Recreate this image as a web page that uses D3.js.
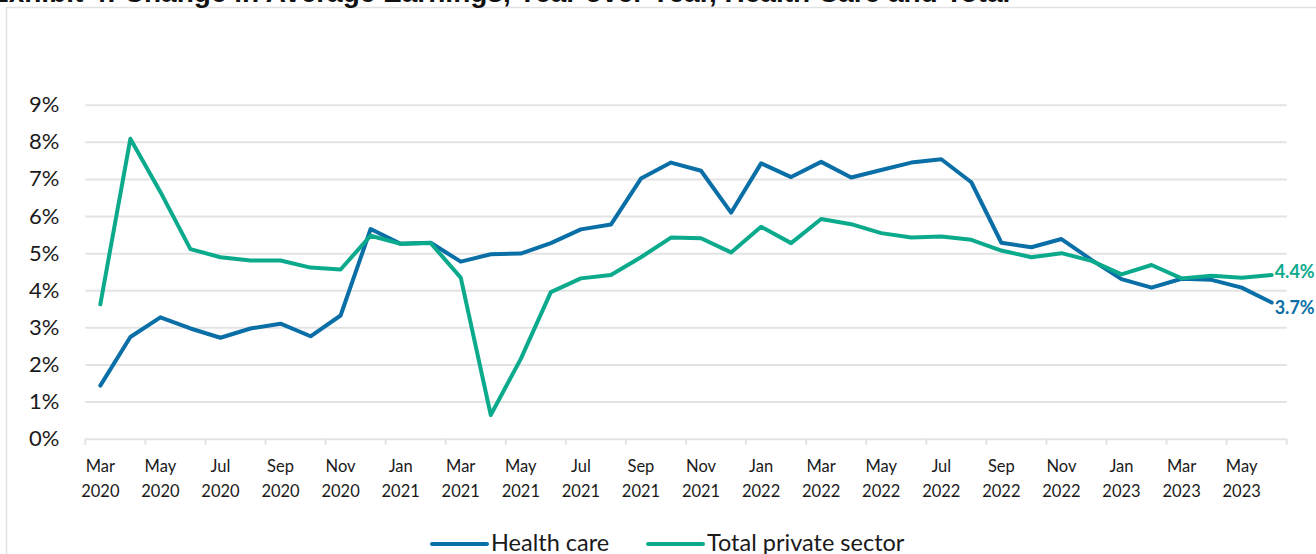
<!DOCTYPE html>
<html>
<head>
<meta charset="utf-8">
<script src="https://cdn.jsdelivr.net/npm/d3@7"></script>
<style>
  html, body { margin: 0; padding: 0; background: #fff; }
  svg { display: block; }
</style>
</head>
<body>
<svg id="chart" width="1316" height="554"></svg>
<script>
const months = ["Mar 2020","Apr 2020","May 2020","Jun 2020","Jul 2020","Aug 2020","Sep 2020","Oct 2020","Nov 2020","Dec 2020",
  "Jan 2021","Feb 2021","Mar 2021","Apr 2021","May 2021","Jun 2021","Jul 2021","Aug 2021","Sep 2021","Oct 2021","Nov 2021","Dec 2021",
  "Jan 2022","Feb 2022","Mar 2022","Apr 2022","May 2022","Jun 2022","Jul 2022","Aug 2022","Sep 2022","Oct 2022","Nov 2022","Dec 2022",
  "Jan 2023","Feb 2023","Mar 2023","Apr 2023","May 2023","Jun 2023"];
const healthCare = [1.43,2.74,3.27,2.97,2.72,2.97,3.10,2.76,3.32,5.65,
  5.25,5.28,4.77,4.97,4.99,5.27,5.64,5.77,7.01,7.44,7.22,6.09,
  7.42,7.05,7.46,7.04,7.24,7.44,7.53,6.91,5.28,5.16,5.38,4.82,
  4.30,4.07,4.31,4.28,4.07,3.67];
const totalPrivate = [3.62,8.08,6.65,5.11,4.89,4.80,4.80,4.61,4.56,5.47,
  5.25,5.27,4.34,0.64,2.15,3.95,4.32,4.41,4.89,5.42,5.40,5.02,
  5.71,5.27,5.92,5.78,5.54,5.42,5.45,5.36,5.07,4.89,5.00,4.79,
  4.43,4.68,4.32,4.39,4.34,4.41];
const yTicks = [0,1,2,3,4,5,6,7,8,9];
const seriesNames = ["Health care","Total private sector"];
const endLabels = ["3.7%","4.4%"];
const title = "Exhibit 4: Change in Average Earnings, Year over Year, Health Care and Total";

const blue = "#0a6fa6", green = "#0baa8c", grid = "#e3e3e3";
const svg = d3.select("#chart");
const font = "Lato, 'Open Sans', sans-serif";

// container border
svg.append("rect").attr("x", 6.5).attr("y", 7.5).attr("width", 1400).attr("height", 700)
  .attr("fill", "none").attr("stroke", "#e2e2e2").attr("stroke-width", 1.5);

// title (cropped at top)
svg.append("text").attr("x", -10).attr("y", 2).attr("font-family", "'Liberation Sans', Arial, sans-serif")
  .attr("font-weight", "bold").attr("font-size", 28).attr("fill", "#111").text(title);

const x = d3.scaleBand().domain(months).range([85.3, 1286.7]).padding(0);
const y = d3.scaleLinear().domain([0, 9]).range([438.7, 104.7]);
const cx = d => x(d) + x.bandwidth() / 2;

// gridlines + y labels
const yAxis = svg.append("g").attr("transform", "translate(85.3,0)")
  .call(d3.axisLeft(y).tickValues(yTicks).tickSize(-(1286.7 - 85.3)).tickPadding(26).tickFormat(d => d + "%"));
yAxis.select(".domain").remove();
yAxis.selectAll(".tick line").attr("stroke", grid).attr("stroke-width", 2);
yAxis.selectAll(".tick text").attr("font-family", font).attr("font-size", 22).attr("fill", "#1a1a1a");

// x tick marks at band boundaries every 2 months
const tickCats = months.filter((d, i) => i % 2 === 0);
const tickXs = tickCats.map(d => x(d)).concat([x.range()[1]]);
svg.append("g").selectAll("line").data(tickXs).join("line")
  .attr("x1", d => d).attr("x2", d => d).attr("y1", y(0)).attr("y2", y(0) + 6)
  .attr("stroke", grid).attr("stroke-width", 2);

// x labels (two lines)
const xAxis = svg.append("g").attr("transform", `translate(0,${y(0)})`)
  .call(d3.axisBottom(x).tickValues(tickCats).tickSize(0).tickPadding(0).tickFormat(""));
xAxis.select(".domain").remove();
xAxis.selectAll(".tick").each(function(d) {
  const parts = d.split(" ");
  const t = d3.select(this).append("text").attr("fill", "#1a1a1a").attr("font-family", font)
    .attr("font-size", 16.5).attr("text-anchor", "middle");
  t.append("tspan").attr("x", 0).attr("y", 33).text(parts[0]);
  t.append("tspan").attr("x", 0).attr("y", 58).text(parts[1]);
});

// lines
const line = d3.line().x((d, i) => cx(months[i])).y(d => y(d));
const series = [{name: seriesNames[0], values: healthCare, color: blue, label: endLabels[0], dy: 4},
                {name: seriesNames[1], values: totalPrivate, color: green, label: endLabels[1], dy: -4}];
series.forEach(s => {
  svg.append("path").datum(s.values).attr("d", line).attr("fill", "none")
    .attr("stroke", s.color).attr("stroke-width", 4).attr("stroke-linejoin", "round").attr("stroke-linecap", "round");
  const last = s.values.length - 1;
  svg.append("text").attr("x", cx(months[last]) + 3).attr("y", y(s.values[last]) + s.dy)
    .attr("dominant-baseline", "central").attr("font-family", font).attr("font-weight", "bold")
    .attr("font-size", 18).attr("fill", s.color).text(s.label);
});

// legend
const legend = [{name: seriesNames[0], color: blue, x: 432}, {name: seriesNames[1], color: green, x: 648}];
legend.forEach(l => {
  svg.append("line").attr("x1", l.x).attr("x2", l.x + 55).attr("y1", 544).attr("y2", 544)
    .attr("stroke", l.color).attr("stroke-width", 4).attr("stroke-linecap", "round");
  svg.append("text").attr("x", l.x + 59).attr("y", 550.5).attr("font-family", font)
    .attr("font-size", 23.5).attr("fill", "#1a1a1a").text(l.name);
});
</script>
</body>
</html>
